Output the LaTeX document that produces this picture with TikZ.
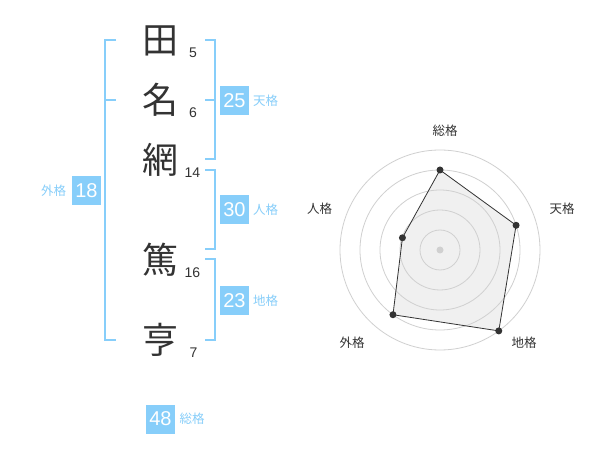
\documentclass[tikz,border=0pt]{standalone}
\usepackage{fontspec}
\setmainfont{Liberation Sans}
\newfontfamily\cjk{Noto Sans CJK JP}
\definecolor{sky}{RGB}{135,206,250}
\definecolor{ink}{RGB}{51,51,51}
\definecolor{ringgray}{RGB}{208,208,208}
\definecolor{fillgray}{RGB}{240,240,240}
\tikzset{kanji/.style={inner sep=0pt, text=ink, font=\cjk\fontsize{36}{36}\selectfont},
	strokes/.style={inner sep=0pt, text=ink, font=\fontsize{14}{14}\selectfont},
	score/.style={fill=sky, text=white, minimum size=29pt, inner sep=0pt, font=\fontsize{20}{20}\selectfont},
	kaku/.style={inner sep=0pt, text=sky, font=\cjk\fontsize{12.5}{12.5}\selectfont},
	axislabel/.style={inner sep=0pt, text=ink, font=\cjk\fontsize{12.5}{12.5}\selectfont},
	bracket/.style={draw=sky, line width=2pt},
	ring/.style={draw=ringgray, line width=0.8pt},
	dot/.style={circle, fill=ink, inner sep=0pt, minimum size=7pt}}

\begin{document}
\begin{tikzpicture}[x=1pt, y=-1pt]
		\useasboundingbox[fill=white] (0,0) rectangle (600,470);
		% name
		\node[kanji] (c1) at (160,41){田};
		\node[kanji] (c2) at (160,100){名};
		\node[kanji] (c3) at (160,160){網};
		\node[kanji] (c4) at (160,260){篤};
		\node[kanji] (c5) at (160,340){亨};
		\node[strokes] (s1) at (193,53){5};
		\node[strokes] (s2) at (193,112.5){6};
		\node[strokes] (s3) at (192.5,173){14};
		\node[strokes] (s4) at (192.5,272.5){16};
		\node[strokes] (s5) at (193.5,353){7};
		% brackets
		\draw[bracket] (116,40) -- (105,40) -- (105,340) -- (116,340);
		\draw[bracket] (105,100) -- (116,100);
		\draw[bracket] (205,40) -- (215,40) -- (215,159) -- (205,159);
		\draw[bracket] (205,100) -- (215,100);
		\draw[bracket] (205,170) -- (215,170) -- (215,249) -- (205,249);
		\draw[bracket] (205,259) -- (215,259) -- (215,340) -- (205,340);
		% scores
		\node[score] (ten) at (234.5,100.5){25};
		\node[kaku] (tenl) at (265.5,100.5){天格};
		\node[score] (jin) at (234.5,210){30};
		\node[kaku] (jinl) at (265.5,210){人格};
		\node[score] (chi) at (234.5,300.5){23};
		\node[kaku] (chil) at (265.5,300.5){地格};
		\node[score] (gai) at (86.5,190.5){18};
		\node[kaku] (gail) at (53.5,190.5){外格};
		\node[score] (sou) at (160.5,419){48};
		\node[kaku] (soul) at (192,419){総格};
		% radar
		\begin{scope}[shift={(440,250)}]
			\coordinate (pso) at (90:80pt);
			\coordinate (pte) at (18:80pt);
			\coordinate (pch) at (-54:100pt);
			\coordinate (pga) at (-126:80pt);
			\coordinate (pji) at (162:39.5pt);
			\fill[fillgray] (pso) -- (pte) -- (pch) -- (pga) -- (pji) -- cycle;
			\foreach \r in {20,40,60,80,100}
				\draw[ring] (0,0) circle[radius=\r pt];
			\draw[ink, line width=0.8pt] (pso) -- (pte) -- (pch) -- (pga) -- (pji) -- cycle;
			\fill[ringgray] (0,0) circle[radius=3.5pt];
			\node[dot] (dso) at (pso){};
			\node[dot] (dte) at (pte){};
			\node[dot] (dch) at (pch){};
			\node[dot] (dga) at (pga){};
			\node[dot] (dji) at (pji){};
		\end{scope}
		\node[axislabel] (aso) at (445,130.5){総格};
		\node[axislabel] (ate) at (562,208.5){天格};
		\node[axislabel] (ach) at (524,342.5){地格};
		\node[axislabel] (aga) at (352,342.5){外格};
		\node[axislabel] (aji) at (319.5,208.5){人格};
\end{tikzpicture}
\end{document}
